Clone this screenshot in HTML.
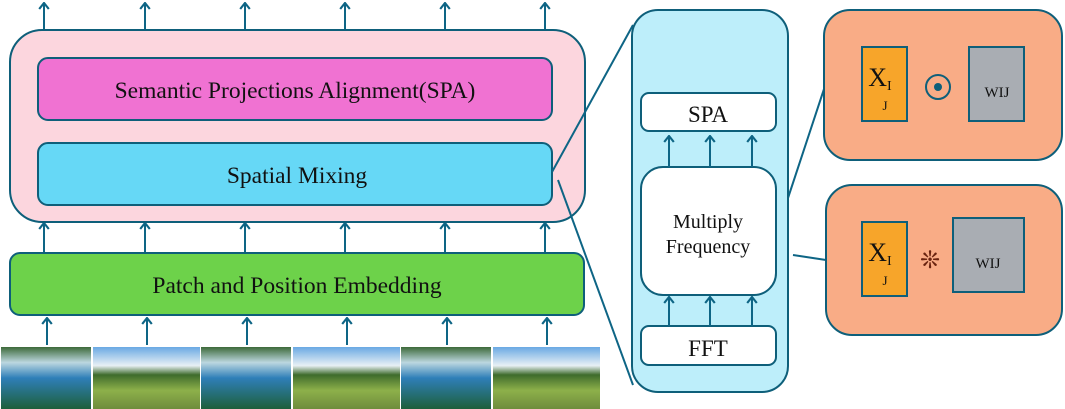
<!DOCTYPE html>
<html><head><meta charset="utf-8"><style>
body{margin:0;width:1065px;height:409px;background:#fff;overflow:hidden}
svg{display:block}
text{font-family:"Liberation Serif",serif;fill:#111}
</style></head><body>
<svg width="1065" height="409" viewBox="0 0 1065 409">
<defs>
<marker id="a" viewBox="0 0 10 10" refX="9" refY="5" markerWidth="12" markerHeight="12" markerUnits="userSpaceOnUse" orient="auto">
<path d="M4,1 L9,5 L4,9" fill="none" stroke="#0e6585" stroke-width="1.8"/></marker>
<linearGradient id="w" x1="0" y1="0" x2="0" y2="1"><stop offset="0" stop-color="#3d6a3a"/><stop offset=".25" stop-color="#bcd7e0"/><stop offset=".5" stop-color="#2f7fb8"/><stop offset="1" stop-color="#1d5f3a"/></linearGradient>
<linearGradient id="m" x1="0" y1="0" x2="0" y2="1"><stop offset="0" stop-color="#6aa9e3"/><stop offset=".3" stop-color="#e8f0f5"/><stop offset=".45" stop-color="#3e6b2c"/><stop offset=".7" stop-color="#8db04a"/><stop offset="1" stop-color="#6e8c3c"/></linearGradient>
</defs>
<g stroke="#0e6585" stroke-width="2" marker-end="url(#a)">
<line x1="44" y1="30" x2="44" y2="3"/><line x1="145" y1="30" x2="145" y2="3"/><line x1="245" y1="30" x2="245" y2="3"/><line x1="345" y1="30" x2="345" y2="3"/><line x1="445" y1="30" x2="445" y2="3"/><line x1="545" y1="30" x2="545" y2="3"/>
<line x1="44" y1="253" x2="44" y2="223"/><line x1="145" y1="253" x2="145" y2="223"/><line x1="245" y1="253" x2="245" y2="223"/><line x1="345" y1="253" x2="345" y2="223"/><line x1="445" y1="253" x2="445" y2="223"/><line x1="545" y1="253" x2="545" y2="223"/>
<line x1="47" y1="345" x2="47" y2="318"/><line x1="147" y1="345" x2="147" y2="318"/><line x1="247" y1="345" x2="247" y2="318"/><line x1="347" y1="345" x2="347" y2="318"/><line x1="447" y1="345" x2="447" y2="318"/><line x1="547" y1="345" x2="547" y2="318"/>
</g>
<rect x="10" y="30" width="575" height="192" rx="32" fill="#fcd6de" stroke="#0e5f7a" stroke-width="2"/>
<rect x="38" y="58" width="514" height="62" rx="10" fill="#f072d2" stroke="#0e5f7a" stroke-width="2"/>
<text x="295" y="98" font-size="23.5" text-anchor="middle">Semantic Projections Alignment(SPA)</text>
<rect x="38" y="143" width="514" height="62" rx="10" fill="#66d8f6" stroke="#0e5f7a" stroke-width="2"/>
<text x="297" y="183" font-size="23.5" text-anchor="middle">Spatial Mixing</text>
<rect x="10" y="253" width="574" height="62" rx="10" fill="#6dd24a" stroke="#0e5f7a" stroke-width="2"/>
<text x="297" y="293" font-size="23.5" text-anchor="middle">Patch and Position Embedding</text>
<g>
<rect x="1" y="347" width="90" height="62" fill="url(#w)"/>
<rect x="93" y="347" width="107" height="62" fill="url(#m)"/>
<rect x="201" y="347" width="90" height="62" fill="url(#w)"/>
<rect x="293" y="347" width="107" height="62" fill="url(#m)"/>
<rect x="401" y="347" width="90" height="62" fill="url(#w)"/>
<rect x="493" y="347" width="107" height="62" fill="url(#m)"/>
</g>
<g stroke="#0e6585" stroke-width="2" fill="none">
<line x1="552" y1="172" x2="633" y2="25"/>
<line x1="558" y1="180" x2="633" y2="385"/>
<line x1="788" y1="198" x2="825" y2="86"/>
<line x1="793" y1="255" x2="826" y2="260"/>
</g>
<rect x="632" y="10" width="156" height="382" rx="26" fill="#bdeefa" stroke="#0e5f7a" stroke-width="2"/>
<rect x="641" y="93" width="135" height="38" rx="8" fill="#fff" stroke="#0e5f7a" stroke-width="2"/>
<text x="708" y="122" font-size="23" text-anchor="middle">SPA</text>
<rect x="641" y="167" width="135" height="128" rx="22" fill="#fff" stroke="#0e5f7a" stroke-width="2"/>
<text x="708" y="228" font-size="20" text-anchor="middle">Multiply</text>
<text x="708" y="253" font-size="20" text-anchor="middle">Frequency</text>
<rect x="641" y="326" width="135" height="39" rx="8" fill="#fff" stroke="#0e5f7a" stroke-width="2"/>
<text x="708" y="356" font-size="23" text-anchor="middle">FFT</text>
<g stroke="#0e6585" stroke-width="2" marker-end="url(#a)">
<line x1="669" y1="167" x2="669" y2="136"/><line x1="710" y1="167" x2="710" y2="136"/><line x1="752" y1="167" x2="752" y2="136"/>
<line x1="669" y1="326" x2="669" y2="297"/><line x1="710" y1="326" x2="710" y2="297"/><line x1="752" y1="326" x2="752" y2="297"/>
</g>
<rect x="824" y="10" width="238" height="150" rx="26" fill="#f9ac86" stroke="#0e5f7a" stroke-width="2"/>
<rect x="862" y="47" width="45" height="74" fill="#f7a52a" stroke="#0e5f7a" stroke-width="2"/>
<text x="880" y="86" font-size="26" text-anchor="middle">X<tspan font-size="14" dy="4">I</tspan></text>
<text x="885" y="110" font-size="13" text-anchor="middle">J</text>
<circle cx="938" cy="87" r="12" fill="none" stroke="#0e5f7a" stroke-width="2"/>
<circle cx="938" cy="87" r="4" fill="#0e5f7a"/>
<rect x="969" y="47" width="55" height="74" fill="#a9adb3" stroke="#0e5f7a" stroke-width="2"/>
<text x="997" y="97" font-size="15" text-anchor="middle">WIJ</text>
<rect x="826" y="185" width="236" height="150" rx="26" fill="#f9ac86" stroke="#0e5f7a" stroke-width="2"/>
<rect x="862" y="222" width="45" height="74" fill="#f7a52a" stroke="#0e5f7a" stroke-width="2"/>
<text x="880" y="261" font-size="26" text-anchor="middle">X<tspan font-size="14" dy="4">I</tspan></text>
<text x="885" y="285" font-size="13" text-anchor="middle">J</text>
<text x="930" y="268" font-size="24" text-anchor="middle" style="fill:#6a2410">❊</text>
<rect x="953" y="218" width="71" height="74" fill="#a9adb3" stroke="#0e5f7a" stroke-width="2"/>
<text x="988" y="268" font-size="15" text-anchor="middle">WIJ</text>
</svg>
</body></html>
